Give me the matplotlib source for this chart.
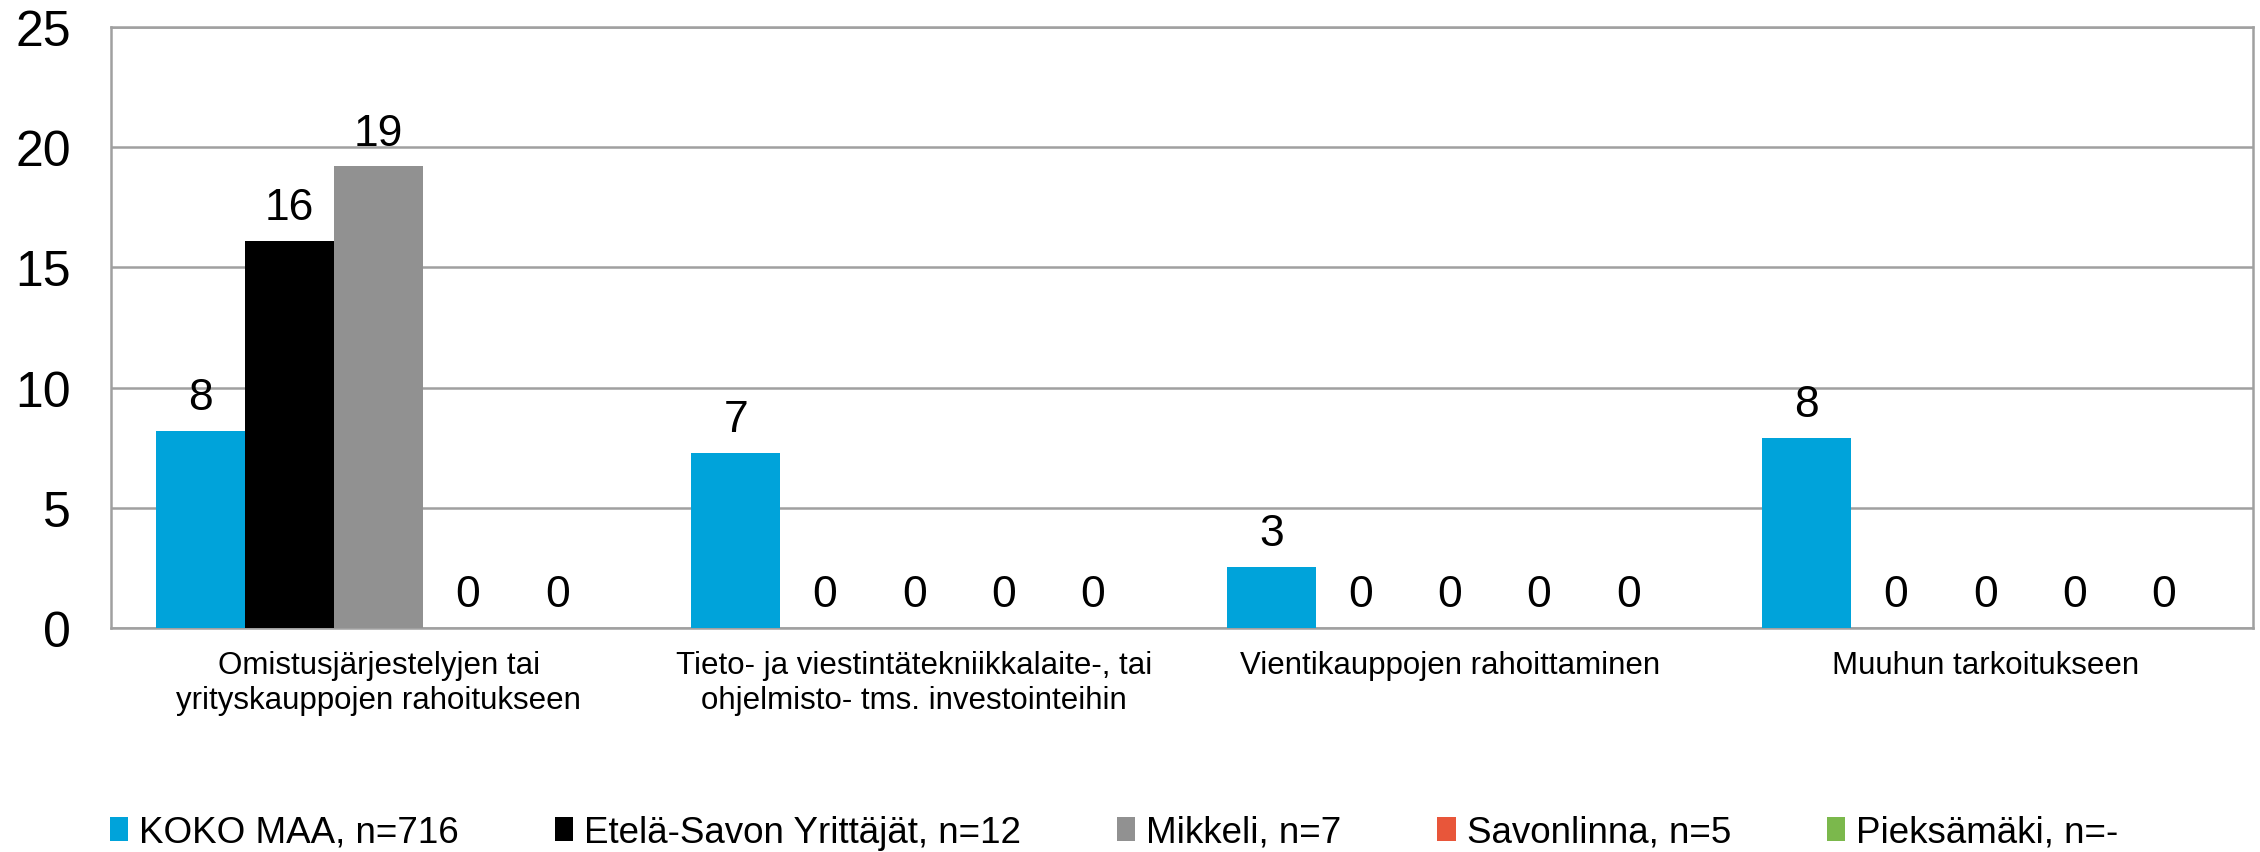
import numpy as np
import matplotlib.pyplot as plt
from matplotlib.patches import Patch

plt.rcParams['font.family'] = ['Liberation Sans', 'DejaVu Sans']

categories = ["Omistusjärjestelyjen tai\nyrityskauppojen rahoitukseen",
              "Tieto- ja viestintätekniikkalaite-, tai\nohjelmisto- tms. investointeihin",
              "Vientikauppojen rahoittaminen",
              "Muuhun tarkoitukseen"]
series_names = ["KOKO MAA, n=716", "Etelä-Savon Yrittäjät, n=12", "Mikkeli, n=7",
                "Savonlinna, n=5", "Pieksämäki, n=-"]
koko_maa = [8.2, 7.3, 2.55, 7.9]
etela_savo = [16.1, 0, 0, 0]
mikkeli = [19.2, 0, 0, 0]
savonlinna = [0, 0, 0, 0]
pieksamaki = [0, 0, 0, 0]
values = [koko_maa, etela_savo, mikkeli, savonlinna, pieksamaki]
colors = ["#00A3DA", "#000000", "#919191", "#E8563A", "#7BB84C"]
yticks = [0, 5, 10, 15, 20, 25]

fig = plt.figure(figsize=(22.6, 8.53), dpi=100)
ax = fig.add_axes([0.0491, 0.2626, 0.9478, 0.7046])

x = np.arange(len(categories))
w = 1 / 6
for i, (vals, col) in enumerate(zip(values, colors)):
    xs = x + (i - 2) * w
    ax.bar(xs, vals, width=w, color=col, zorder=3)
    for xi, v in zip(xs, vals):
        ax.annotate(f"{v:.0f}", (xi, v), xytext=(0, 24), textcoords='offset points',
                    ha='center', va='center', fontsize=32, zorder=4)

ax.set_xlim(-0.5, len(categories) - 0.5)
ax.set_ylim(0, 25)
ax.set_yticks(yticks)
ax.set_yticklabels([str(t) for t in yticks], fontsize=36)
ax.set_xticks(x)
ax.set_xticklabels(categories, fontsize=22.5, linespacing=1.2)
ax.tick_params(axis='both', length=0)
ax.tick_params(axis='y', pad=29)
ax.tick_params(axis='x', pad=16)
ax.grid(axis='y', color='#A0A0A0', lw=1.8, zorder=0)
for s in ax.spines.values():
    s.set_color('#A0A0A0')
    s.set_linewidth(1.8)

handles = [Patch(facecolor=c, edgecolor='none') for c in colors]
fig.legend(handles, series_names, loc='center', bbox_to_anchor=(0.493, 0.023),
           ncol=5, frameon=False, fontsize=26.5, handlelength=0.5, handleheight=0.6,
           handletextpad=0.3, columnspacing=2.6, borderpad=0)

plt.savefig("out.png")
